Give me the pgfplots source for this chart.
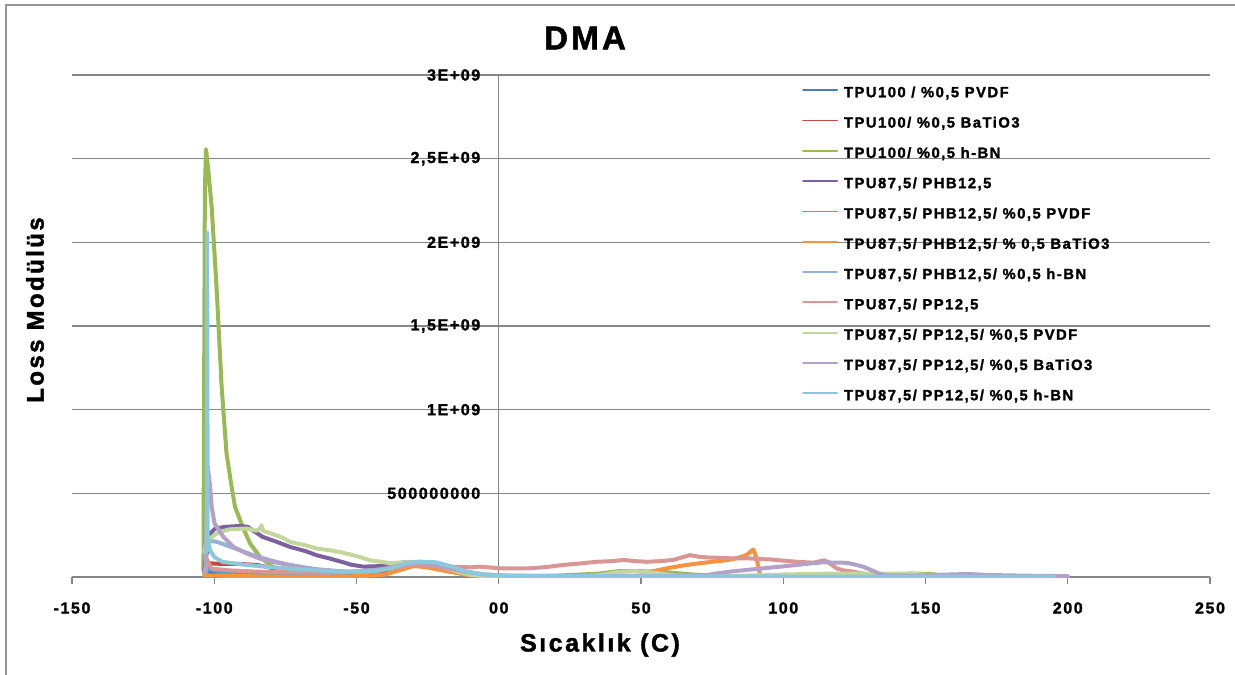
\documentclass[border=0pt]{standalone}
\usepackage{fontspec}
\setmainfont{Liberation Sans}[LetterSpace=10, BoldFeatures={FakeBold=1.6}]
\usepackage{pgfplots}
\pgfplotsset{compat=1.18}

\definecolor{gridgray}{RGB}{134,134,134}
\definecolor{frame}{RGB}{150,150,150}
\definecolor{cA}{RGB}{74,126,187}
\definecolor{cB}{RGB}{190,75,72}
\definecolor{cC}{RGB}{152,185,84}
\definecolor{cD}{RGB}{125,96,160}
\definecolor{cE}{RGB}{70,170,197}
\definecolor{cF}{RGB}{246,146,64}
\definecolor{cG}{RGB}{149,179,215}
\definecolor{cH}{RGB}{217,150,148}
\definecolor{cI}{RGB}{195,214,155}
\definecolor{cJ}{RGB}{179,162,199}
\definecolor{cK}{RGB}{140,200,220}

\begin{document}
\begin{tikzpicture}
\path[use as bounding box] (0pt,0pt) rectangle (1235pt,-675pt);
\draw[frame, line width=2pt] (6pt,-675pt) -- (6pt,-5pt) -- (1235pt,-5pt);

\begin{axis}[
  at={(72pt,-577pt)}, anchor=south west,
  width=1138pt, height=502pt, scale only axis,
  xmin=-150, xmax=250, ymin=0, ymax=3e9,
  axis x line*=bottom, axis y line*=middle,
  axis line style={draw=gridgray, line width=1.3pt},
  xtick={-150,-100,-50,0,50,100,150,200,250},
  xticklabels={-150,-100,-50,00,50,100,150,200,250},
  ytick={0,5e8,1e9,1.5e9,2e9,2.5e9,3e9},
  yticklabels={0,500000000,1E+09,{1,5E+09},2E+09,{2,5E+09},3E+09},
  scaled y ticks=false,
  ymajorgrids,
  major grid style={draw=gridgray, line width=1.3pt},
  tick align=outside,
  major tick length=7pt,
  xtick style={draw=gridgray, line width=1.3pt},
  ytick style={draw=none},
  tick label style={font=\fontsize{16}{18}\selectfont\bfseries},
  xticklabel style={anchor=center, yshift=-24pt},
  yticklabel style={anchor=east, xshift=-8pt},
  legend style={at={(rel axis cs:0.6415,0.976)}, anchor=north west,
    draw=none, fill=none, inner sep=0pt, row sep=17.3pt, column sep=6pt,
    font=\fontsize{14.8}{16}\selectfont\bfseries,
    nodes={inner sep=0pt, text height=10pt, text depth=3pt}},
  legend cell align=left,
  legend image code/.code={\draw[#1, line width=1.8pt] (0pt,3.5pt) -- (34pt,3.5pt);},
  every axis plot/.append style={line width=4pt, line join=round, line cap=round, mark=none},
]

% TPU100 / %0,5 PVDF
\addplot[cA] coordinates {
(-103.5,0.25e8) (-103,0.35e8) (-102,0.3e8) (-98,0.2e8) (-90,0.12e8) (-80,0.08e8)
(-65,0.06e8) (-50,0.08e8) (-42,0.2e8) (-36,0.55e8) (-32,0.75e8) (-27,0.7e8)
(-20,0.45e8) (-12,0.2e8) (-5,0.06e8) (5,0.03e8) (30,0.02e8) (60,0.02e8)
(100,0.02e8) (130,0.05e8) (138,0.12e8) (145,0.2e8) (152,0.15e8) (160,0.05e8) (185,0.02e8)};
\addlegendentry{TPU100 / \%0,5 PVDF}

% TPU100/ %0,5 BaTiO3
\addplot[cB] coordinates {
(-103.5,0.3e8) (-102.8,1.1e8) (-102,0.82e8) (-97,0.78e8) (-91,0.78e8) (-85,0.72e8)
(-79,0.52e8) (-73,0.32e8) (-67,0.2e8) (-55,0.12e8) (-45,0.12e8) (-38,0.35e8)
(-32,0.7e8) (-27,0.72e8) (-20,0.5e8) (-12,0.22e8) (-5,0.05e8) (5,0.01e8)
(40,0.01e8) (100,0.01e8) (150,0.02e8) (180,0.01e8)};
\addlegendentry{TPU100/ \%0,5 BaTiO3}

% TPU100/ %0,5 h-BN
\addplot[cC] coordinates {
(-103.8,0.4e8) (-103.3,2.3e9) (-102.9,2.557e9) (-102.2,2.45e9) (-100.9,2.21e9)
(-99.2,1.735e9) (-97.4,1.137e9) (-95.7,0.74e9) (-94,0.55e9) (-92.7,0.42e9)
(-90,0.30e9) (-87.4,0.20e9) (-83.9,0.12e9) (-79.4,0.06e9) (-74,0.035e9)
(-65,0.025e9) (-50,0.03e9) (-40,0.05e9) (-33,0.075e9) (-28,0.08e9) (-22,0.06e9)
(-15,0.035e9) (-8,0.012e9) (0,0.005e9) (20,0.008e9) (35,0.02e9) (42,0.035e9)
(50,0.035e9) (58,0.03e9) (68,0.015e9) (80,0.005e9) (120,0.005e9) (140,0.015e9)
(148,0.02e9) (155,0.012e9) (170,0.005e9) (200,0.003e9)};
\addlegendentry{TPU100/ \%0,5 h-BN}

% TPU87,5/ PHB12,5
\addplot[cD] coordinates {
(-103.5,0.4e8) (-102.5,1.6e8) (-101.4,2.6e8) (-99.7,2.9e8) (-96,3.0e8) (-91,3.05e8)
(-88.3,3.0e8) (-83,2.4e8) (-78,2.1e8) (-73.4,1.8e8) (-68,1.55e8) (-64,1.3e8)
(-59.3,1.1e8) (-54.7,0.88e8) (-52,0.74e8) (-47.6,0.62e8) (-42,0.65e8) (-37,0.8e8)
(-32,0.9e8) (-27,0.85e8) (-20,0.55e8) (-12,0.25e8) (-5,0.08e8) (5,0.02e8)
(50,0.01e8) (100,0.01e8) (140,0.015e8) (150,0.02e8) (160,0.015e8) (185,0.01e8)};
\addlegendentry{TPU87,5/ PHB12,5}

% TPU87,5/ PHB12,5/ %0,5 PVDF
\addplot[cE] coordinates {
(-103.5,0.2e8) (-102,0.5e8) (-98,0.3e8) (-85,0.15e8) (-70,0.1e8) (-55,0.12e8)
(-45,0.25e8) (-38,0.55e8) (-32,0.8e8) (-26,0.82e8) (-20,0.6e8) (-12,0.3e8)
(-4,0.08e8) (5,0.02e8) (40,0.02e8) (100,0.01e8) (150,0.01e8) (190,0.005e8)};
\addlegendentry{TPU87,5/ PHB12,5/ \%0,5 PVDF}

% TPU87,5/ PHB12,5/ % 0,5 BaTiO3
\addplot[cF] coordinates {
(-103.5,0.1e8) (-100,0.08e8) (-90,0.05e8) (-75,0.03e8) (-60,0.03e8) (-48,0.05e8)
(-40,0.15e8) (-34,0.45e8) (-30,0.65e8) (-26,0.6e8) (-20,0.4e8) (-12,0.15e8)
(-5,0.03e8) (10,0.01e8) (30,0.01e8) (45,0.02e8) (50,0.1e8) (53,0.3e8) (59,0.52e8)
(66,0.72e8) (72,0.85e8) (75,0.91e8) (80,1.0e8) (83.6,1.12e8) (87.1,1.31e8)
(89.5,1.65e8) (90.6,1.12e8) (91.5,0.4e8) (92,0.05e8)};
\addlegendentry{TPU87,5/ PHB12,5/ \% 0,5 BaTiO3}

% TPU87,5/ PHB12,5/ %0,5 h-BN
\addplot[cG] coordinates {
(-103,1.5e8) (-102.6,2.2e8) (-99,2.1e8) (-95,1.85e8) (-91,1.6e8) (-87,1.35e8)
(-82.8,1.12e8) (-78,0.9e8) (-73.4,0.72e8) (-68,0.57e8) (-64,0.46e8) (-58,0.38e8)
(-53.5,0.32e8) (-47,0.35e8) (-40,0.5e8) (-34,0.75e8) (-29,0.85e8) (-24,0.8e8)
(-18,0.55e8) (-12,0.3e8) (-5,0.12e8) (2,0.05e8) (20,0.02e8) (60,0.02e8)
(100,0.02e8) (150,0.02e8) (195,0.01e8)};
\addlegendentry{TPU87,5/ PHB12,5/ \%0,5 h-BN}

% TPU87,5/ PP12,5
\addplot[cH] coordinates {
(-103.5,0.3e8) (-102.5,1.0e8) (-101,0.5e8) (-95,0.4e8) (-85,0.32e8) (-75,0.28e8)
(-60,0.25e8) (-50,0.3e8) (-42,0.4e8) (-35,0.6e8) (-30,0.75e8) (-25,0.72e8)
(-18,0.62e8) (-10,0.58e8) (-6.6,0.62e8) (0.4,0.52e8) (11,0.52e8) (17,0.6e8)
(22.6,0.72e8) (28,0.8e8) (34.4,0.91e8) (40,0.95e8) (43.8,1.02e8) (48,0.95e8)
(52,0.91e8) (57,0.95e8) (61.3,1.02e8) (65,1.2e8) (67.2,1.31e8) (70,1.22e8)
(73,1.17e8) (77,1.15e8) (81.3,1.12e8) (87.1,1.12e8) (91,1.08e8) (95.4,1.05e8)
(100,0.98e8) (104.7,0.91e8) (110.5,0.86e8) (114.6,1.0e8) (116.5,0.8e8)
(118.7,0.52e8) (121,0.4e8) (124.6,0.32e8) (128,0.2e8) (132.8,0.06e8)
(140,0.02e8) (160,0.01e8) (175,0.01e8)};
\addlegendentry{TPU87,5/ PP12,5}

% TPU87,5/ PP12,5/ %0,5 PVDF
\addplot[cI] coordinates {
(-103.5,1.5e8) (-103.2,1.8e8) (-102.2,2.2e8) (-100,2.5e8) (-98,2.7e8) (-94.6,2.85e8)
(-88.6,2.9e8) (-85.1,2.77e8) (-83.8,2.9e8) (-83.4,3.1e8) (-82.8,2.75e8) (-80,2.6e8)
(-76,2.35e8) (-73.4,2.1e8) (-68,1.9e8) (-64,1.7e8) (-59.3,1.6e8) (-54.7,1.45e8)
(-52.3,1.35e8) (-48,1.15e8) (-45.3,1.0e8) (-41,0.9e8) (-38.2,0.82e8) (-33,0.88e8)
(-28,0.9e8) (-23,0.75e8) (-18.3,0.52e8) (-14,0.3e8) (-10,0.12e8) (-5,0.05e8)
(5,0.02e8) (25,0.02e8) (35,0.1e8) (42,0.3e8) (48,0.35e8) (55,0.25e8) (62,0.08e8)
(80,0.05e8) (100,0.15e8) (115,0.2e8) (130,0.2e8) (145,0.2e8) (155,0.08e8)
(170,0.02e8) (195,0.01e8)};
\addlegendentry{TPU87,5/ PP12,5/ \%0,5 PVDF}

% TPU87,5/ PP12,5/ %0,5 BaTiO3
\addplot[cJ] coordinates {
(-103,0.3e8) (-102.3,0.66e9) (-101.5,0.55e9) (-100.9,0.42e9) (-99.9,0.32e9)
(-96.8,0.24e9) (-93.3,0.18e9) (-88.6,0.14e9) (-84,0.11e9) (-79.3,0.09e9)
(-73,0.07e9) (-67.5,0.052e9) (-61,0.04e9) (-55.8,0.032e9) (-48,0.03e9)
(-42,0.04e9) (-36,0.065e9) (-31,0.08e9) (-26,0.082e9) (-20,0.06e9) (-13,0.035e9)
(-5,0.015e9) (5,0.008e9) (30,0.005e9) (55,0.005e9) (70.7,0.005e9) (76,0.02e9)
(81.3,0.032e9) (87,0.042e9) (93,0.052e9) (99,0.062e9) (104.7,0.072e9) (109,0.08e9)
(114,0.088e9) (118,0.086e9) (122.3,0.085e9) (125,0.075e9) (128,0.062e9)
(130.5,0.045e9) (133.4,0.022e9) (136,0.01e9) (145,0.008e9) (158,0.015e9)
(165,0.018e9) (172,0.012e9) (185,0.008e9) (195,0.006e9) (200,0.005e9)};
\addlegendentry{TPU87,5/ PP12,5/ \%0,5 BaTiO3}

% TPU87,5/ PP12,5/ %0,5 h-BN
\addplot[cK] coordinates {
(-103,1.5e8) (-102.6,1.6e8) (-102.5,2.058e9) (-102.3,2.5e8) (-101.5,1.6e8)
(-100,1.2e8) (-97,0.9e8) (-90,0.75e8) (-85,0.66e8) (-75,0.52e8) (-65,0.4e8)
(-55,0.32e8) (-45,0.34e8) (-38,0.5e8) (-32,0.85e8) (-28,0.92e8) (-22,0.88e8)
(-16,0.6e8) (-12,0.35e8) (-5,0.15e8) (0,0.1e8) (10,0.06e8) (50,0.04e8)
(100,0.03e8) (150,0.03e8) (195,0.02e8)};
\addlegendentry{TPU87,5/ PP12,5/ \%0,5 h-BN}

\end{axis}

\node[font=\fontsize{33}{36}\selectfont\bfseries] at (585pt,-38pt) {DMA};
\node[font=\fontsize{25}{28}\selectfont\bfseries] at (600pt,-645pt) {Sıcaklık (C)};
\node[font=\fontsize{24}{28}\selectfont\bfseries, rotate=90] at (35pt,-310pt) {Loss Modülüs};
\end{tikzpicture}
\end{document}
